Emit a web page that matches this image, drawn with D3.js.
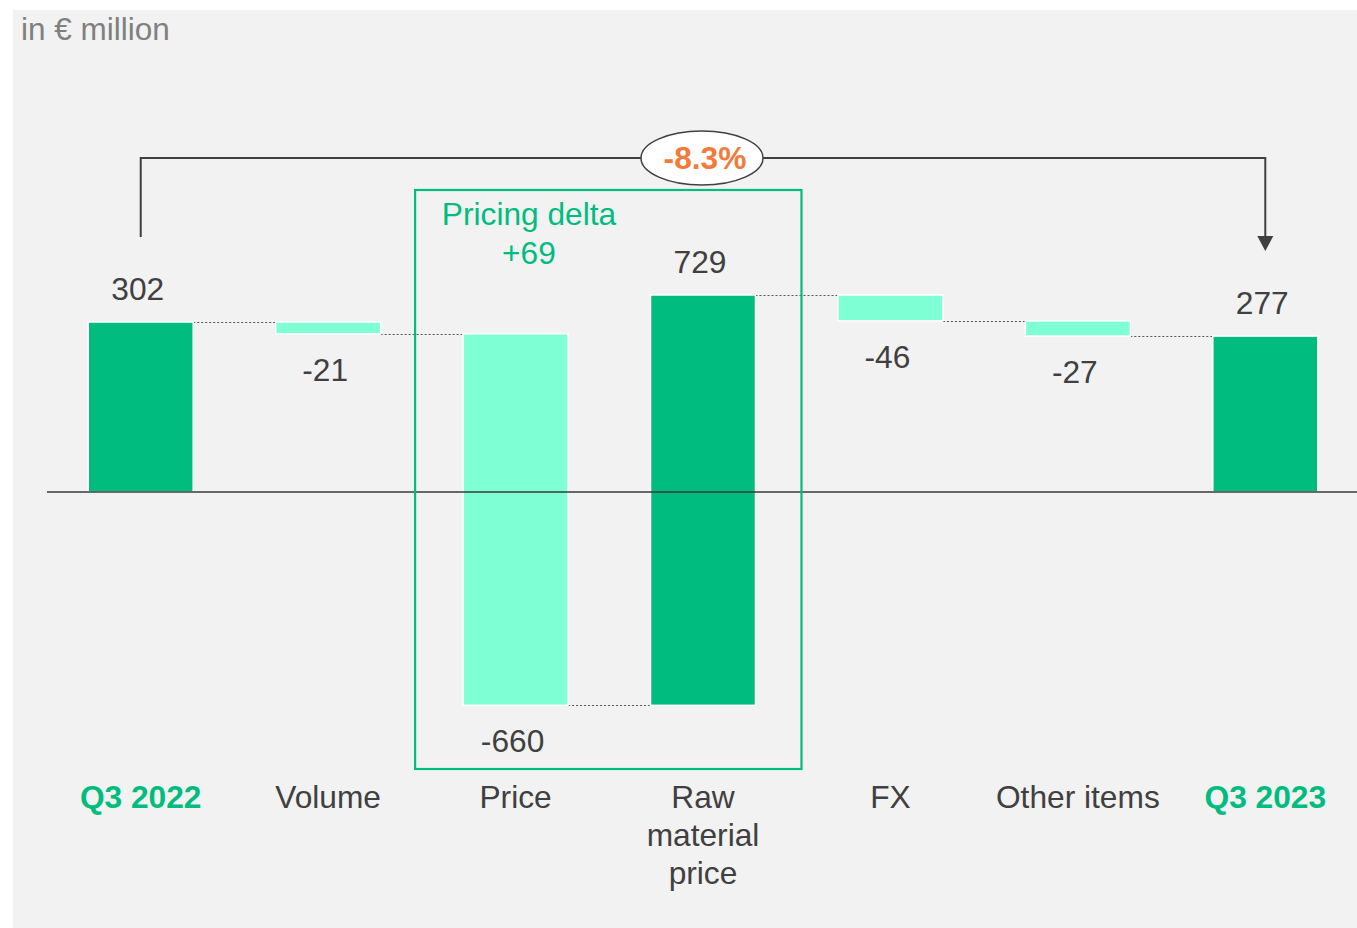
<!DOCTYPE html>
<html><head><meta charset="utf-8">
<script src="https://cdn.jsdelivr.net/npm/d3@7"></script>
<style>body{margin:0;background:#fff}svg{display:block}text{font-family:"Liberation Sans",Arial,sans-serif}</style>
</head><body>
<svg id="c" width="1357" height="928"></svg>
<script>
const categories = ["Q3 2022","Volume","Price","Raw material price","FX","Other items","Q3 2023"];
const categoryLines = [["Q3 2022"],["Volume"],["Price"],["Raw","material","price"],["FX"],["Other items"],["Q3 2023"]];
const values = [302,-21,-660,729,-46,-27,277];
const kinds = ["total","delta","delta","delta","delta","delta","total"];
const valueLabels = ["302","-21","-660","729","-46","-27","277"];
const changeLabel = "-8.3%";
const pricingLabel = ["Pricing delta","+69"];
const unitLabel = "in € million";

const DARK="#00BC7E", LIGHT="#7FFFD4", TXT="#404040";
const FS=31.7;
const svg = d3.select("#c");
svg.append("rect").attr("x",13).attr("y",10).attr("width",1344).attr("height",918).attr("fill","#f2f2f2");

const x = d3.scaleBand().domain(categories).range([47,1359]).paddingInner(0.44).paddingOuter(0.22);
const y = d3.scaleLinear().domain([0,302]).range([492,322]);

let run=0;
const bars = categories.map((c,i)=>{
  let s,e;
  if(kinds[i]==="total"){s=0;e=values[i];run=values[i];}
  else {s=run;e=run+values[i];run=e;}
  return {c,i,s,e,v:values[i],kind:kinds[i]};
});

// connectors
bars.slice(0,-1).forEach((b,i)=>{
  const n=bars[i+1];
  svg.append("line").attr("x1",x(b.c)+x.bandwidth()).attr("x2",x(n.c))
    .attr("y1",Math.round(y(b.e))+0.5).attr("y2",Math.round(y(b.e))+0.5)
    .attr("stroke","#555").attr("stroke-width",1).attr("stroke-dasharray","2,2");
});

// bars
svg.selectAll("rect.bar").data(bars).join("rect").attr("class","bar")
  .attr("x",d=>x(d.c)).attr("width",x.bandwidth())
  .attr("y",d=>y(Math.max(d.s,d.e))).attr("height",d=>Math.abs(y(d.s)-y(d.e)))
  .attr("fill",d=>(d.kind==="total"||d.v>0)?DARK:LIGHT)
  .attr("stroke","#fff").attr("stroke-width",1.5);

// baseline
svg.append("line").attr("x1",47).attr("x2",1357).attr("y1",y(0)).attr("y2",y(0)).attr("stroke","#3a3a3a").attr("stroke-width",1.5);

// value labels
svg.selectAll("text.val").data(bars).join("text").attr("class","val")
  .attr("x",d=>x(d.c)+x.bandwidth()/2-3)
  .attr("y",d=>d.v>=0? y(Math.max(d.s,d.e))-22 : y(Math.min(d.s,d.e))+47)
  .attr("text-anchor","middle").attr("font-size",FS).attr("fill",TXT)
  .text((d,i)=>valueLabels[i]);

// category labels
categories.forEach((c,i)=>{
  const t=svg.append("text").attr("x",x(c)+x.bandwidth()/2).attr("y",808)
    .attr("text-anchor","middle").attr("font-size",FS)
    .attr("fill",kinds[i]==="total"?DARK:TXT).attr("font-weight",kinds[i]==="total"?"bold":"normal");
  categoryLines[i].forEach((l,j)=>t.append("tspan").attr("x",x(c)+x.bandwidth()/2).attr("dy",j?38:0).text(l));
});

// pricing box
const bx0=x("Price")-48, bx1=x("Raw material price")+x.bandwidth()+46;
svg.append("rect").attr("x",bx0).attr("y",190).attr("width",bx1-bx0).attr("height",579)
  .attr("fill","none").attr("stroke",DARK).attr("stroke-width",2.2);
svg.append("text").attr("x",529).attr("y",225).attr("text-anchor","middle").attr("font-size",FS).attr("fill",DARK).text(pricingLabel[0]);
svg.append("text").attr("x",529).attr("y",264).attr("text-anchor","middle").attr("font-size",FS).attr("fill",DARK).text(pricingLabel[1]);

// change arrow
const xl=x(categories[0])+x.bandwidth()/2, xr=x(categories[6])+x.bandwidth()/2;
svg.append("path").attr("d",`M${xl},237V158H${xr}V238`).attr("fill","none").attr("stroke",TXT).attr("stroke-width",2);
svg.append("path").attr("d",`M${xr-8},236L${xr+8},236L${xr},251Z`).attr("fill",TXT);
svg.append("ellipse").attr("cx",702).attr("cy",158).attr("rx",61).attr("ry",27).attr("fill","#fff").attr("stroke",TXT).attr("stroke-width",1.5);
svg.append("text").attr("x",705).attr("y",169).attr("text-anchor","middle").attr("font-size",FS).attr("font-weight","bold").attr("fill","#F47A3C").text(changeLabel);

// unit label
svg.append("text").attr("x",21).attr("y",40).attr("font-size",31.5).attr("fill","#808080").text(unitLabel);
</script>
</body></html>
